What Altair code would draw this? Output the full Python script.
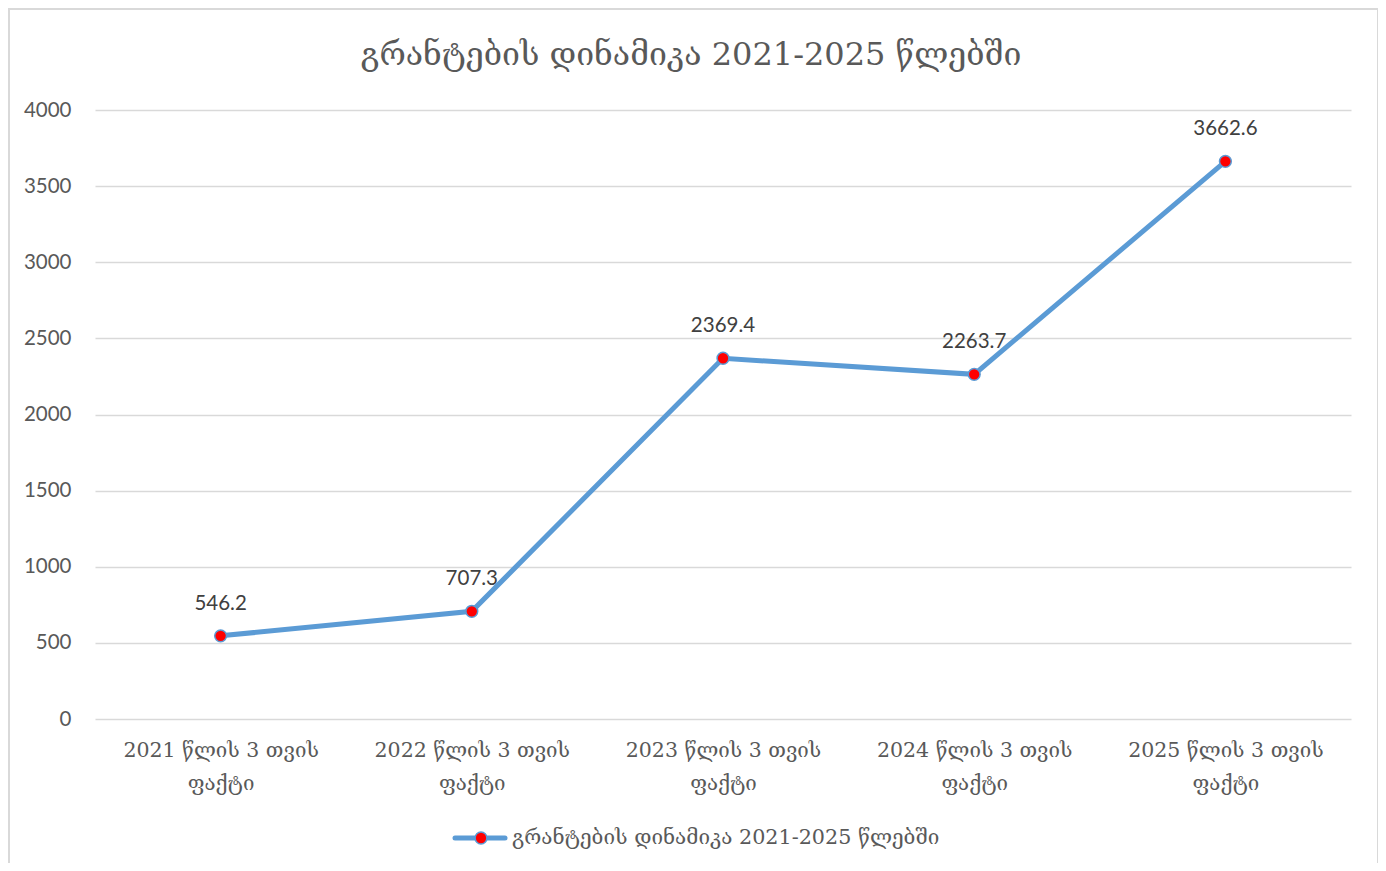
import altair as alt
import pandas as pd

title_text = "გრანტების დინამიკა 2021-2025 წლებში"
categories = [
    "2021 წლის 3 თვის\nფაქტი",
    "2022 წლის 3 თვის\nფაქტი",
    "2023 წლის 3 თვის\nფაქტი",
    "2024 წლის 3 თვის\nფაქტი",
    "2025 წლის 3 თვის\nფაქტი",
]
values = [546.2, 707.3, 2369.4, 2263.7, 3662.6]
y_ticks = [0, 500, 1000, 1500, 2000, 2500, 3000, 3500, 4000]

df = pd.DataFrame({"cat": categories, "val": values})
df["lbl"] = [f"{v:.1f}" for v in values]
one = pd.DataFrame({"t": [title_text]})

GEO_FONT = "DejaVu Serif"
NUM_FONT = "Lato"
BLUE = "#5B9BD5"
GRID = "#D9D9D9"

x_enc = alt.X(
    "cat:N",
    sort=categories,
    scale=alt.Scale(type="point", padding=0.5),
    axis=alt.Axis(
        title=None,
        domain=False,
        ticks=False,
        grid=False,
        labelAngle=0,
        labelFont=GEO_FONT,
        labelFontSize=20.5,
        labelColor="#595959",
        labelPadding=21,
        labelLineHeight=33,
        labelLimit=0,
        labelExpr="split(datum.label, '\\n')",
    ),
)
y_enc = alt.Y(
    "val:Q",
    scale=alt.Scale(domain=[0, 4000], nice=False),
    axis=alt.Axis(
        title=None,
        values=y_ticks,
        format="d",
        domain=False,
        ticks=False,
        grid=True,
        gridColor=GRID,
        gridWidth=1.3,
        labelFont=NUM_FONT,
        labelFontSize=20.5,
        labelColor="#595959",
        labelPadding=24,
    ),
)

base = alt.Chart(df)
line = base.mark_line(color=BLUE, strokeWidth=5).encode(x=x_enc, y=y_enc)
pts = base.mark_point(
    filled=True, fill="#FF0000", stroke=BLUE, strokeWidth=1.5, size=140, opacity=1
).encode(x=alt.X("cat:N", sort=categories), y="val:Q")
labels = base.mark_text(
    font=NUM_FONT, fontSize=20.5, color="#404040", baseline="middle", dy=-32
).encode(x=alt.X("cat:N", sort=categories), y="val:Q", text="lbl:N")

title = alt.Chart(one).mark_text(
    font=GEO_FONT, fontSize=32, color="#595959", baseline="middle", align="center"
).encode(x=alt.value(596), y=alt.value(-55), text="t:N")

leg_line = alt.Chart(one).mark_rule(color=BLUE, strokeWidth=5, strokeCap="round").encode(
    x=alt.value(360), x2=alt.value(410), y=alt.value(728)
)
leg_pt = alt.Chart(one).mark_point(
    filled=True, fill="#FF0000", stroke=BLUE, strokeWidth=1.5, size=140, opacity=1
).encode(x=alt.value(386), y=alt.value(728))
leg_txt = alt.Chart(one).mark_text(
    font=GEO_FONT, fontSize=20.7, color="#595959", baseline="middle", align="left"
).encode(x=alt.value(417), y=alt.value(728), text="t:N")

b_top = alt.Chart(one).mark_rule(color=GRID, strokeWidth=2).encode(
    x=alt.value(-87), x2=alt.value(1283), y=alt.value(-101)
)
b_left = alt.Chart(one).mark_rule(color=GRID, strokeWidth=2).encode(
    x=alt.value(-86), y=alt.value(-102), y2=alt.value(760)
)
b_right = alt.Chart(one).mark_rule(color=GRID, strokeWidth=2).encode(
    x=alt.value(1283), y=alt.value(-102), y2=alt.value(760)
)

chart = (
    alt.layer(b_top, b_left, b_right, line, pts, labels, title, leg_line, leg_pt, leg_txt)
    .properties(
        width=1256,
        height=609,
        autosize=alt.AutoSizeParams(type="none"),
        padding={"left": 87, "top": 102, "right": 27, "bottom": 144},
    )
    .configure(background="white")
    .configure_view(stroke=None, strokeWidth=0)
)

chart.save("out.html", embed_options={"renderer": "svg", "actions": False})
